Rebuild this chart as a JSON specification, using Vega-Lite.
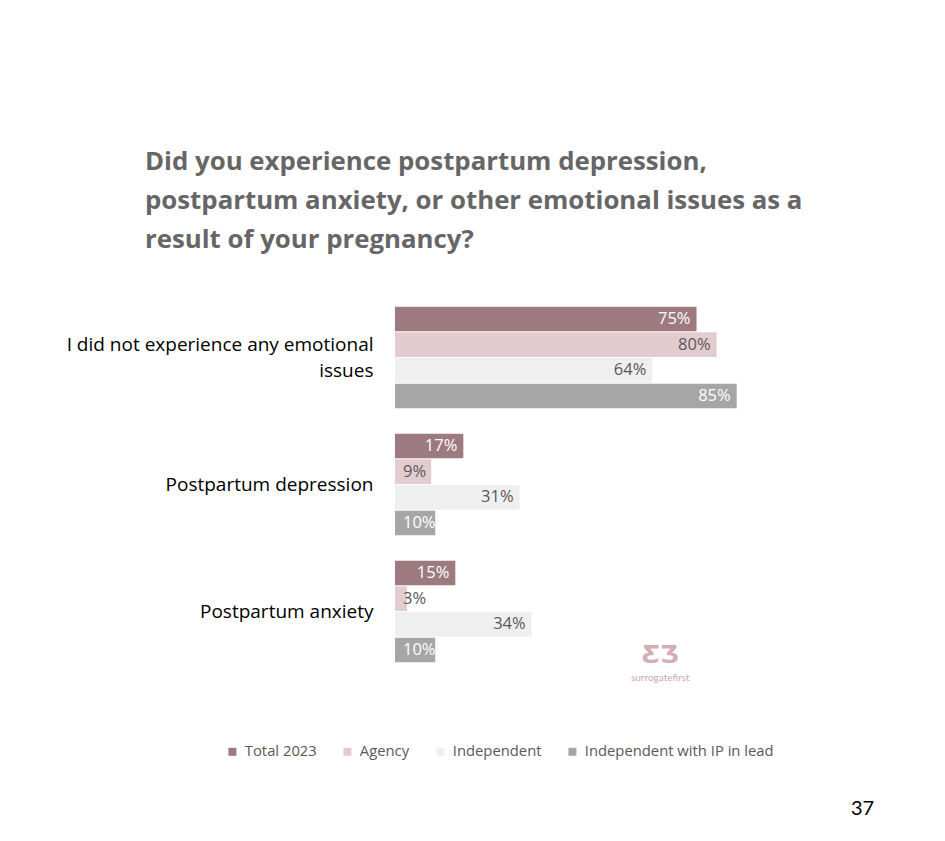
{
  "$schema": "https://vega.github.io/schema/vega-lite/v6.json",
  "width": 402,
  "height": 381,
  "autosize": "none",
  "padding": {"left": 395, "top": 294, "right": 148, "bottom": 166},
  "background": "white",
  "title": {
    "text": ["Did you experience postpartum depression,", "postpartum anxiety, or other emotional issues as a", "result of your pregnancy?"],
    "anchor": "start",
    "frame": "group",
    "dx": -250,
    "offset": 40,
    "font": "Open Sans",
    "fontSize": 25.8,
    "fontWeight": "bold",
    "color": "#666666",
    "lineHeight": 39
  },
  "datasets": {
    "main": [
      {"q": "I did not experience any emotional|issues", "group": "Total 2023", "value": 75},
      {"q": "I did not experience any emotional|issues", "group": "Agency", "value": 80},
      {"q": "I did not experience any emotional|issues", "group": "Independent", "value": 64},
      {"q": "I did not experience any emotional|issues", "group": "Independent with IP in lead", "value": 85},
      {"q": "Postpartum depression", "group": "Total 2023", "value": 17},
      {"q": "Postpartum depression", "group": "Agency", "value": 9},
      {"q": "Postpartum depression", "group": "Independent", "value": 31},
      {"q": "Postpartum depression", "group": "Independent with IP in lead", "value": 10},
      {"q": "Postpartum anxiety", "group": "Total 2023", "value": 15},
      {"q": "Postpartum anxiety", "group": "Agency", "value": 3},
      {"q": "Postpartum anxiety", "group": "Independent", "value": 34},
      {"q": "Postpartum anxiety", "group": "Independent with IP in lead", "value": 10}
    ],
    "logo": [
      {"q": "Postpartum anxiety", "value": 66, "mark": "ƸƷ", "name": "surrogatefirst"}
    ]
  },
  "layer": [
    {
      "data": {"name": "main"},
      "mark": {"type": "bar"},
      "encoding": {
        "y": {
          "field": "q", "type": "nominal",
          "sort": ["I did not experience any emotional|issues", "Postpartum depression", "Postpartum anxiety"],
          "scale": {"paddingInner": 0.2, "paddingOuter": 0.1},
          "axis": {
            "title": null, "domain": false, "ticks": false,
            "labelFont": "Open Sans", "labelFontSize": 19, "labelColor": "#000000",
            "labelPadding": 22, "labelLimit": 400, "labelLineHeight": 26,
            "labelExpr": "split(datum.label, '|')",
            "labelOffset": {"condition": {"test": "indexof(datum.label, '|') >= 0", "value": -13}, "value": 0}
          }
        },
        "yOffset": {
          "field": "group", "type": "nominal",
          "sort": ["Total 2023", "Agency", "Independent", "Independent with IP in lead"],
          "scale": {"paddingInner": 0.04}
        },
        "x": {
          "field": "value", "type": "quantitative",
          "scale": {"domain": [0, 100]},
          "axis": {
            "title": "37", "labels": false, "ticks": false, "domain": false, "grid": false,
            "titleFont": "Lato", "titleFontSize": 20, "titleFontWeight": "normal", "titleColor": "#000000",
            "titleX": 467, "titleY": 133, "titleAlign": "center", "titleBaseline": "middle"
          }
        },
        "color": {
          "field": "group", "type": "nominal",
          "scale": {
            "domain": ["Total 2023", "Agency", "Independent", "Independent with IP in lead"],
            "range": ["#9c7a80", "#e3cccf", "#efefef", "#a6a6a6"]
          },
          "legend": {
            "orient": "none", "legendX": -170, "legendY": 450, "direction": "horizontal",
            "title": null, "symbolType": "square", "symbolSize": 64, "symbolStrokeWidth": 0,
            "labelFont": "Open Sans", "labelFontSize": 14.8, "labelColor": "#595959", "labelLimit": 300,
            "columnPadding": 23, "labelOffset": 5
          }
        }
      }
    },
    {
      "data": {"name": "main"},
      "transform": [
        {"filter": "datum.value > 10"},
        {"calculate": "datum.value + '%'", "as": "lbl"}
      ],
      "mark": {"type": "text", "align": "right", "baseline": "middle", "dx": -6, "font": "Open Sans", "fontSize": 16.5},
      "encoding": {
        "y": {"field": "q", "type": "nominal", "sort": ["I did not experience any emotional|issues", "Postpartum depression", "Postpartum anxiety"]},
        "yOffset": {"field": "group", "type": "nominal", "sort": ["Total 2023", "Agency", "Independent", "Independent with IP in lead"]},
        "x": {"field": "value", "type": "quantitative"},
        "text": {"field": "lbl", "type": "nominal"},
        "color": {
          "condition": {"test": "datum.group === 'Agency' || datum.group === 'Independent'", "value": "#595959"},
          "value": "#ffffff"
        }
      }
    },
    {
      "data": {"name": "main"},
      "transform": [
        {"filter": "datum.value <= 10"},
        {"calculate": "datum.value + '%'", "as": "lbl"}
      ],
      "mark": {"type": "text", "align": "left", "baseline": "middle", "dx": 8, "font": "Open Sans", "fontSize": 16.5},
      "encoding": {
        "y": {"field": "q", "type": "nominal", "sort": ["I did not experience any emotional|issues", "Postpartum depression", "Postpartum anxiety"]},
        "yOffset": {"field": "group", "type": "nominal", "sort": ["Total 2023", "Agency", "Independent", "Independent with IP in lead"]},
        "x": {"datum": 0, "type": "quantitative"},
        "text": {"field": "lbl", "type": "nominal"},
        "color": {
          "condition": {"test": "datum.group === 'Agency' || datum.group === 'Independent'", "value": "#595959"},
          "value": "#ffffff"
        }
      }
    },
    {
      "data": {"name": "logo"},
      "mark": {"type": "text", "align": "center", "baseline": "middle", "dy": 44, "font": "DejaVu Sans", "fontSize": 24, "fontWeight": "bold", "color": "#d3aeb6"},
      "encoding": {
        "y": {"field": "q", "type": "nominal", "sort": ["I did not experience any emotional|issues", "Postpartum depression", "Postpartum anxiety"]},
        "x": {"field": "value", "type": "quantitative"},
        "text": {"field": "mark"}
      }
    },
    {
      "data": {"name": "logo"},
      "mark": {"type": "text", "align": "center", "baseline": "middle", "dy": 66, "font": "Lato", "fontSize": 10, "color": "#c9a9b0"},
      "encoding": {
        "y": {"field": "q", "type": "nominal", "sort": ["I did not experience any emotional|issues", "Postpartum depression", "Postpartum anxiety"]},
        "x": {"field": "value", "type": "quantitative"},
        "text": {"field": "name"}
      }
    }
  ],
  "config": {"view": {"stroke": null}}
}
